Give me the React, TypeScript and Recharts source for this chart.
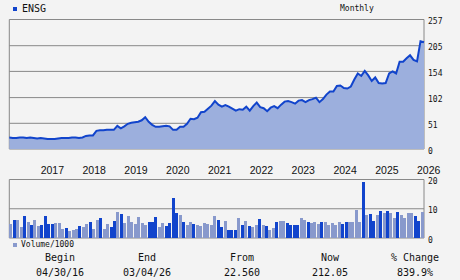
import { Area, AreaChart, Bar, BarChart, CartesianGrid, Cell, XAxis, YAxis } from "recharts";

// monthly close, Apr 2016 .. Mar 2026
const price = [
  23, 22, 22, 23, 23, 22, 23, 22, 21, 22, 21, 20, 20, 20, 21, 22, 22, 22, 23, 23,
  22, 23, 26, 27, 27, 36, 37, 37, 38, 38, 38, 46, 41, 45, 50, 52, 53, 54, 57, 63,
  54, 48, 44, 44, 45, 46, 45, 38, 38, 44, 44, 50, 60, 59, 62, 73, 74, 80, 86, 95,
  88, 84, 87, 84, 80, 76, 79, 78, 84, 76, 85, 92, 83, 81, 75, 82, 85, 81, 88, 94,
  95, 93, 90, 96, 97, 93, 97, 99, 102, 93, 99, 108, 114, 114, 125, 126, 121, 120, 124, 138,
  150, 145, 155, 146, 135, 142, 131, 130, 131, 150, 154, 150, 173, 173, 180, 186, 177, 174, 214, 212,
];

// volume / 1000
const volume = [
  4.8, 6.2, 6.2, 3.8, 7.6, 5.5, 4.5, 6.2, 4.1, 4.5, 7.6, 4.8, 4.8, 5.2, 5.2, 3.1, 3.5, 2.5, 2.9, 3.1,
  4.1, 3.8, 4.8, 5.5, 3.1, 6.2, 7.0, 3.1, 4.8, 3.8, 5.9, 8.9, 8.3, 5.2, 7.6, 5.5, 4.8, 7.2, 5.2, 4.5,
  5.5, 5.5, 7.2, 3.8, 5.2, 4.1, 5.2, 13.8, 8.6, 8.0, 5.5, 4.5, 5.5, 4.8, 4.5, 4.1, 5.2, 4.8, 4.5, 7.6,
  6.2, 3.8, 5.9, 2.9, 2.9, 2.9, 6.9, 4.5, 5.9, 4.1, 3.8, 4.5, 6.5, 4.5, 4.1, 2.9, 3.5, 5.5, 5.9, 5.9,
  5.2, 4.3, 4.5, 4.5, 6.7, 6.2, 5.5, 5.0, 5.5, 4.9, 5.5, 5.5, 4.4, 5.2, 4.5, 5.5, 4.9, 5.5, 5.3, 5.5,
  9.6, 5.5, 19.1, 7.9, 8.2, 5.9, 7.7, 9.3, 8.6, 9.3, 8.6, 7.0, 8.9, 7.9, 7.0, 8.6, 8.6, 7.6, 5.9, 8.9,
];

// D = dark bar, L = light bar
const volShade =
  "LDLLDLDLLDDDDLLLDLLL" +
  "DLLDLLDLLDDLDLLLLLLL" +
  "DDDLLDDDDLDLLDLLLLLL" +
  "DDLDDDLDLDLLDLDLLDLL" +
  "DDDDLLDLLLDLLLLLDDLL" +
  "LLDLDDLDLDLLDLLLLDDL";

const yearLabels = ["2017", "2018", "2019", "2020", "2021", "2022", "2023", "2024", "2025", "2026"];
const yearTicks = yearLabels.map((_, k) => 9 + k * 12); // January of each year
const priceTicks = [0, 51, 102, 154, 205, 257];
const volTicks = [0, 10, 20];

const DARK = "#1144cc";
const LIGHT = "#8899cc";
const GRID = "#888888";
const BG = "#f3f3f3";
const MONO = "'DejaVu Sans Mono', monospace";

const priceData = price.map((v, i) => ({ i, v }));
const volData = volume.map((v, i) => ({ i, v, dark: volShade[i] === "D" }));

function YearTick({ x, y, payload }: any) {
  const k = yearTicks.indexOf(payload.value);
  return (
    <text x={x} y={y} dy={17} textAnchor="start" fontSize={10.5} fill="#111" fontFamily="'Liberation Sans', Arial">
      {yearLabels[k]}
    </text>
  );
}

function RightTick({ x, y, payload }: any) {
  return (
    <text x={x} y={y} dy={4.5} textAnchor="start" fontSize={8} fill="#111" fontFamily={MONO}>
      {payload.value}
    </text>
  );
}

function Stat({ cx, label, value }: { cx: number; label: string; value: string }) {
  return (
    <>
      <div style={{ position: "absolute", left: cx - 50, width: 100, top: 252, textAlign: "center", fontSize: 10, fontFamily: MONO, color: "#111" }}>
        {label}
      </div>
      <div style={{ position: "absolute", left: cx - 50, width: 100, top: 267, textAlign: "center", fontSize: 10, fontFamily: MONO, color: "#111" }}>
        {value}
      </div>
    </>
  );
}

export default function App() {
  return (
    <div style={{ position: "absolute", left: 0, top: 0, width: 460, height: 280, background: BG, overflow: "hidden" }}>
      <div style={{ position: "absolute", left: 13, top: 7, width: 4, height: 4, background: DARK }} />
      <div style={{ position: "absolute", left: 22, top: 2, fontSize: 10, fontFamily: MONO, color: "#111", lineHeight: "14px" }}>ENSG</div>
      <div style={{ position: "absolute", left: 340, top: 3, fontSize: 8, fontFamily: MONO, color: "#111", lineHeight: "12px" }}>Monthly</div>

      <div style={{ position: "absolute", left: 0, top: 0 }}>
        <AreaChart width={460} height={180} data={priceData} margin={{ top: 19.5, right: 0, bottom: 0, left: 9.3 }}>
          <CartesianGrid stroke={GRID} horizontal vertical verticalPoints={[9.3, 424]} />
          <XAxis
            dataKey="i"
            type="number"
            domain={[0, 119]}
            ticks={yearTicks}
            tick={<YearTick />}
            tickLine={false}
            axisLine={false}
            height={31}
            interval={0}
          />
          <YAxis
            orientation="right"
            domain={[0, 257]}
            ticks={priceTicks}
            tick={<RightTick />}
            tickLine={false}
            axisLine={false}
            tickSize={0}
            tickMargin={4}
            width={36}
            interval={0}
          />
          <Area
            type="linear"
            dataKey="v"
            stroke={DARK}
            strokeWidth={2}
            fill="#9cafdd"
            fillOpacity={1}
            dot={false}
            activeDot={false}
            isAnimationActive={false}
          />
        </AreaChart>
      </div>

      <div style={{ position: "absolute", left: 0, top: 170 }}>
        <BarChart width={460} height={80} data={volData} margin={{ top: 9.5, right: 0, bottom: 12, left: 9.3 }} barCategoryGap={0} barGap={0}>
          <CartesianGrid stroke={GRID} horizontal vertical verticalPoints={[9.3, 424]} />
          <XAxis dataKey="i" hide />
          <YAxis
            orientation="right"
            domain={[0, 20]}
            ticks={volTicks}
            tick={<RightTick />}
            tickLine={false}
            axisLine={false}
            tickSize={0}
            tickMargin={4}
            width={36}
            interval={0}
          />
          <Bar dataKey="v" isAnimationActive={false}>
            {volData.map((d) => (
              <Cell key={d.i} fill={d.dark ? DARK : LIGHT} shapeRendering="crispEdges" />
            ))}
          </Bar>
        </BarChart>
      </div>

      <div style={{ position: "absolute", left: 13, top: 243, width: 4, height: 4, background: LIGHT }} />
      <div style={{ position: "absolute", left: 21, top: 239, fontSize: 8, fontFamily: MONO, color: "#111", lineHeight: "12px" }}>Volume/1000</div>

      <Stat cx={60} label="Begin" value="04/30/16" />
      <Stat cx={147} label="End" value="03/04/26" />
      <Stat cx={242} label="From" value="22.560" />
      <Stat cx={330} label="Now" value="212.05" />
      <Stat cx={415} label="% Change" value="839.9%" />
    </div>
  );
}
